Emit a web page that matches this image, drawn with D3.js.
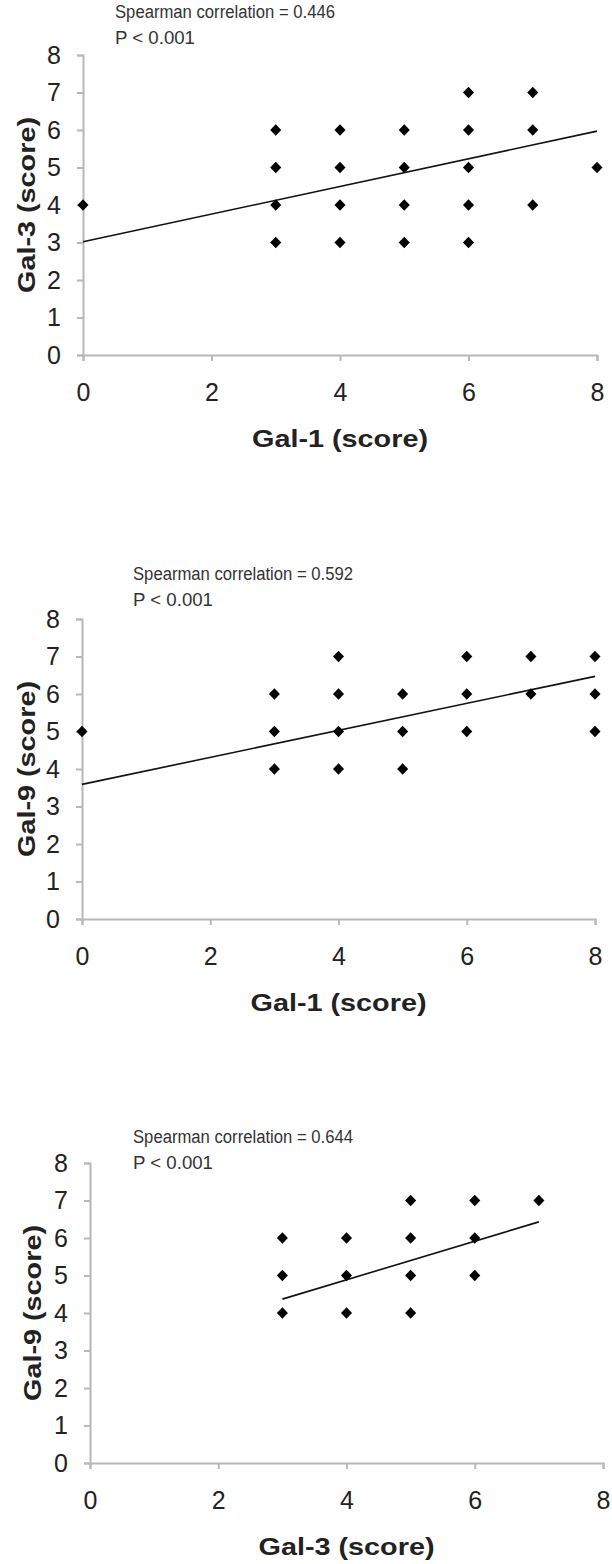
<!DOCTYPE html>
<html>
<head>
<meta charset="utf-8">
<script src="https://cdn.jsdelivr.net/npm/d3@7"></script>
<style>
  body { margin: 0; background: #fff; }
  svg { display: block; }
  .axis path, .axis line { stroke: #b8b8b8; stroke-width: 2; }
  .axis text { font-family: "Liberation Sans", Arial, sans-serif; font-size: 25px; fill: #222; }
  .title { font-family: "Liberation Sans", Arial, sans-serif; font-size: 24px; font-weight: bold; fill: #222; }
  .note { font-family: "Liberation Sans", Arial, sans-serif; font-size: 18px; fill: #333; }
</style>
</head>
<body>
<div id="chart"></div>
<script>
const w = 612;
const h = 1564;

// tick values shared by all three panels
const xTicks = [0, 2, 4, 6, 8];
const yTicks = [0, 1, 2, 3, 4, 5, 6, 7, 8];

// panel 1: Gal-1 vs Gal-3
const p1X = [0, 3, 3, 3, 3, 4, 4, 4, 4, 5, 5, 5, 5, 6, 6, 6, 6, 6, 7, 7, 7, 8];
const p1Y = [4, 6, 5, 4, 3, 6, 5, 4, 3, 6, 5, 4, 3, 7, 6, 5, 4, 3, 7, 6, 4, 5];
const p1FitX = [0, 8];
const p1FitY = [3.02, 5.97];
const p1Text = ["Spearman correlation = 0.446", "P < 0.001"];

// panel 2: Gal-1 vs Gal-9
const p2X = [0, 3, 3, 3, 4, 4, 4, 4, 5, 5, 5, 6, 6, 6, 7, 7, 8, 8, 8];
const p2Y = [5, 6, 5, 4, 7, 6, 5, 4, 6, 5, 4, 7, 6, 5, 7, 6, 7, 6, 5];
const p2FitX = [0, 8];
const p2FitY = [3.59, 6.47];
const p2Text = ["Spearman correlation = 0.592", "P < 0.001"];

// panel 3: Gal-3 vs Gal-9
const p3X = [3, 3, 3, 4, 4, 4, 5, 5, 5, 5, 6, 6, 6, 7];
const p3Y = [6, 5, 4, 6, 5, 4, 7, 6, 5, 4, 7, 6, 5, 7];
const p3FitX = [3, 7];
const p3FitY = [4.37, 6.43];
const p3Text = ["Spearman correlation = 0.644", "P < 0.001"];

const panels = [
  { xs: p1X, ys: p1Y, fx: p1FitX, fy: p1FitY, text: p1Text, xTitle: "Gal-1 (score)", yTitle: "Gal-3 (score)",
    left: 83, right: 597, top: 55, bottom: 355, textX: 115, textY: 18, yTitleX: 27 },
  { xs: p2X, ys: p2Y, fx: p2FitX, fy: p2FitY, text: p2Text, xTitle: "Gal-1 (score)", yTitle: "Gal-9 (score)",
    left: 82, right: 595, top: 619, bottom: 919, textX: 133, textY: 580, yTitleX: 27 },
  { xs: p3X, ys: p3Y, fx: p3FitX, fy: p3FitY, text: p3Text, xTitle: "Gal-3 (score)", yTitle: "Gal-9 (score)",
    left: 90, right: 603, top: 1163, bottom: 1463, textX: 133, textY: 1143, yTitleX: 33 }
];

// excel style diamond (square turned 45 degrees)
const diamond = {
  draw(ctx, size) {
    const r = Math.sqrt(size / 2);
    ctx.moveTo(0, -r);
    ctx.lineTo(r * 0.95, 0);
    ctx.lineTo(0, r);
    ctx.lineTo(-r * 0.95, 0);
    ctx.closePath();
  }
};

const svg = d3.select("#chart").append("svg")
  .attr("width", w).attr("height", h);

panels.forEach(function(p) {
  const x = d3.scaleLinear().domain([0, 8]).range([p.left, p.right]);
  const y = d3.scaleLinear().domain([0, 8]).range([p.bottom, p.top]);
  const g = svg.append("g");

  g.append("g").attr("class", "axis")
    .attr("transform", "translate(0," + p.bottom + ")")
    .call(d3.axisBottom(x).tickValues(xTicks).tickSize(6).tickPadding(22));
  g.append("g").attr("class", "axis")
    .attr("transform", "translate(" + p.left + ",0)")
    .call(d3.axisLeft(y).tickValues(yTicks).tickSize(6).tickPadding(16));

  g.append("path")
    .datum(d3.zip(p.fx, p.fy))
    .attr("d", d3.line().x(d => x(d[0])).y(d => y(d[1])))
    .attr("fill", "none")
    .attr("stroke", "#111")
    .attr("stroke-width", 1.6);

  g.selectAll(".pt").data(d3.zip(p.xs, p.ys)).enter().append("path")
    .attr("class", "pt")
    .attr("transform", d => "translate(" + x(d[0]) + "," + y(d[1]) + ")")
    .attr("d", d3.symbol().type(diamond).size(68))
    .attr("fill", "#000");

  g.selectAll(".note").data(p.text).enter().append("text")
    .attr("class", "note")
    .attr("x", p.textX)
    .attr("y", (d, i) => p.textY + i * 26)
    .attr("textLength", (d, i) => i === 0 ? 220 : 80)
    .attr("lengthAdjust", "spacingAndGlyphs")
    .text(d => d);

  g.append("text").attr("class", "title")
    .attr("x", (p.left + p.right) / 2)
    .attr("y", p.bottom + 92)
    .attr("text-anchor", "middle")
    .attr("textLength", 176)
    .attr("lengthAdjust", "spacingAndGlyphs")
    .text(p.xTitle);

  g.append("text").attr("class", "title")
    .attr("transform", "translate(" + (p.yTitleX + 8) + "," + (p.top + p.bottom) / 2 + ") rotate(-90)")
    .attr("text-anchor", "middle")
    .attr("textLength", 176)
    .attr("lengthAdjust", "spacingAndGlyphs")
    .text(p.yTitle);
});
</script>
</body>
</html>
